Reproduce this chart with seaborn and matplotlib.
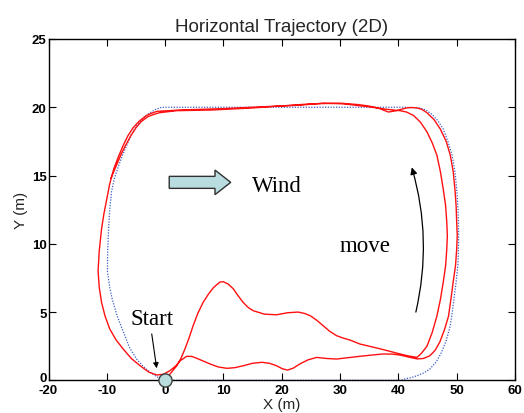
import matplotlib
matplotlib.use("Agg")
import matplotlib.pyplot as plt
import matplotlib.transforms as mtransforms
import numpy as np
import pandas as pd
import seaborn as sns
from matplotlib.patches import FancyArrow

# Planned (reference) path, metres
ref_x = [0, 10, 20, 30, 40.5, 41.1, 42.2, 43.3, 44.4, 45.4, 46.5, 47.4, 48.2, 48.9,
         49.4, 49.9, 50.2, 50.3, 50.35, 50.3, 50.2, 50.0, 49.7, 49.2, 48.5, 47.7,
         46.8, 45.7, 44.7, 43.7, 41.4, 30, 20, 10, -0.6, -1.6, -2.6, -3.8, -4.9,
         -5.8, -6.6, -7.3, -8.0, -8.7, -9.2, -9.5, -9.7, -9.85, -9.9, -9.5, -9.1,
         -8.3, -7.4, -6.1, -4.9, -3.7, -2.6, -1.5, -0.6, 0]
ref_y = [0, 0, 0, 0, 0, 0.1, 0.2, 0.35, 0.55, 0.83, 1.35, 2.05, 2.9, 4.0,
         5.5, 7.2, 8.4, 9.5, 10.6, 11.6, 12.8, 14.0, 15.3, 16.5, 17.5, 18.4,
         19.0, 19.5, 19.8, 19.95, 20.0, 20.0, 20.0, 20.0, 20.0, 19.85, 19.6, 19.2, 18.65,
         18.0, 17.2, 16.5, 15.7, 14.8, 13.8, 12.5, 11.1, 9.5, 8.0, 6.8, 6.0,
         4.8, 3.8, 2.4, 1.56, 1.0, 0.6, 0.28, 0.1, 0]

# Flown trajectory, first lap
lap1_x = [0, 0.3, 1.1, 2.0, 2.7, 3.4, 4.1, 4.8, 5.6, 6.5, 7.4, 8.3, 9.4, 10.0, 10.8,
          11.7, 12.5, 13.4, 14.2, 15.1, 17.0, 19.1, 21.0, 22.8, 23.9, 24.9, 26.0,
          27.1, 28.2, 29.4, 30.5, 31.7, 33.4, 35.5, 37.4, 40.3, 41.8, 43.2,
          44.0, 44.9, 45.8, 46.6, 47.2, 47.7, 48.1, 48.3, 48.4, 48.3, 48.1, 47.7,
          47.2, 46.6, 45.8, 44.9, 43.8, 42.6, 41.4, 40.3, 38.0,
          34.6, 30.6, 27.1, 23.1, 17.4, 10.0, 6.0, 2.6, 0.5, -1.4, -2.4, -3.2,
          -4.4, -5.5, -6.4, -7.2, -8.0, -8.8, -9.5, -10.0, -10.5, -10.9, -11.3,
          -11.5, -11.3, -10.9, -10.3, -9.5, -8.4, -7.2, -5.8, -4.3, -2.8, -1.4,
          -0.3, 0.8, 1.8, 2.6, 3.7]
lap1_y = [0, 0.2, 0.6, 1.07, 1.6, 2.3, 3.1, 4.0, 4.9, 5.7, 6.3, 6.8, 7.2, 7.22, 7.05,
          6.7, 6.2, 5.7, 5.35, 5.1, 4.85, 4.8, 4.95, 5.0, 4.9, 4.73, 4.4,
          4.0, 3.6, 3.27, 3.1, 2.95, 2.66, 2.45, 2.25, 1.93, 1.78, 1.68,
          2.0, 2.5, 3.5, 4.7, 5.9, 7.2, 8.4, 9.6, 10.6, 11.6, 12.8, 14.0,
          15.3, 16.5, 17.4, 18.2, 18.9, 19.4, 19.65, 19.75, 19.85,
          20.05, 20.25, 20.3, 20.15, 20.05, 19.9, 19.85, 19.8, 19.75, 19.7, 19.55, 19.4,
          19.0, 18.5, 17.9, 17.2, 16.4, 15.5, 14.4, 13.3, 12.2, 11.1, 9.5,
          8.0, 6.8, 5.7, 4.7, 3.76, 2.95, 2.3, 1.6, 1.07, 0.6, 0.39,
          0.45, 0.7, 1.05, 1.44, 1.76]

# Flown trajectory, second lap
lap2_x = [4.6, 5.5, 6.6, 7.7, 9.1, 10.6, 12.0, 13.4, 15.0, 16.6, 17.9, 19.1, 20.1,
          21.0, 22.0, 23.1, 24.5, 26.0, 27.7, 29.4, 31.4, 33.4, 35.4, 37.4, 39.0,
          40.3, 41.8, 43.2, 44.3, 45.4, 46.3, 47.1, 47.9, 48.6, 49.0, 49.4, 49.8,
          50.0, 50.1, 50.0, 49.9, 49.7, 49.4, 48.9, 48.2, 47.2, 46.1, 44.9, 44.0,
          43.2, 42.3, 41.4, 40.5, 39.7, 38.3, 37.4, 36.5, 34.8, 33.0, 30.0, 25.0,
          20.0, 15.0, 8.0, 2.0, -1.0, -2.1, -3.0, -4.1, -5.0, -5.9, -6.8, -7.5,
          -8.2, -8.8, -9.3]
lap2_y = [1.75, 1.6, 1.4, 1.2, 0.98, 0.88, 0.93, 1.07, 1.25, 1.32, 1.25, 1.07, 0.85,
          0.75, 0.9, 1.2, 1.5, 1.68, 1.6, 1.56, 1.66, 1.76, 1.85, 1.93, 1.92,
          1.85, 1.7, 1.57, 1.6, 1.8, 2.2, 2.8, 3.7, 4.7, 5.9, 7.2, 8.4,
          9.6, 10.6, 11.6, 12.8, 14.0, 15.3, 16.5, 17.5, 18.4, 19.1, 19.6, 19.85,
          19.95, 19.98, 19.95, 19.85, 19.75, 19.65, 19.8, 19.95, 20.1, 20.2, 20.3, 20.25,
          20.1, 19.95, 19.8, 19.75, 19.6, 19.45, 19.3, 18.95, 18.5, 17.9, 17.2, 16.6,
          15.9, 15.3, 14.8]

x_ticks = [-20, -10, 0, 10, 20, 30, 40, 50, 60]
y_ticks = [0, 5, 10, 15, 20, 25]

sns.set_theme(style="ticks")
plt.rcParams["font.family"] = ["Liberation Sans", "DejaVu Sans"]
plt.rcParams["axes.edgecolor"] = "black"
plt.rcParams["xtick.color"] = "black"
plt.rcParams["ytick.color"] = "black"

fig = plt.figure(figsize=(5.24, 4.14), dpi=100)
ax = fig.add_axes([0.0926, 0.0789, 0.8902, 0.8245])

ref = pd.DataFrame({"x": ref_x, "y": ref_y})
flown = pd.DataFrame({"x": lap1_x + lap2_x, "y": lap1_y + lap2_y})

sns.lineplot(data=ref, x="x", y="y", sort=False, estimator=None, ax=ax,
             color="#3d5cc8", linewidth=0.9, linestyle=(0, (1, 1.2)), zorder=2)
sns.lineplot(data=flown, x="x", y="y", sort=False, estimator=None, ax=ax,
             color="#ff1010", linewidth=1.0, zorder=3)

# Wind arrow and label
ax.add_patch(FancyArrow(0.7, 14.5, 10.55, 0, width=0.88, head_width=1.8,
                        head_length=2.7, length_includes_head=True,
                        facecolor="#b8dcdf", edgecolor="#303030", linewidth=1.0,
                        zorder=4))
serif = ["Liberation Serif", "DejaVu Serif"]
ax.text(14.85, 13.9, "Wind", family=serif, fontsize=16.5, va="baseline", color="black")

# Direction of motion
ax.annotate("", xy=(42.3, 15.6), xytext=(43.0, 5.0),
            arrowprops=dict(arrowstyle="-|>", color="black", lw=0.9,
                            mutation_scale=10, shrinkA=0, shrinkB=0,
                            connectionstyle="arc3,rad=0.13"))
ax.text(30.0, 9.5, "move", family=serif, fontsize=16.5, va="baseline", color="black")

# Start point
ax.annotate("", xy=(-1.45, 0.88), xytext=(-2.3, 3.4),
            arrowprops=dict(arrowstyle="-|>", color="black", lw=0.8,
                            mutation_scale=8, shrinkA=0, shrinkB=0))
ax.text(-6.0, 4.13, "Start", family=serif, fontsize=16.5, va="baseline", color="black")
ax.scatter([0], [0], s=90, facecolor="#b9dcdc", edgecolor="#404040",
           linewidth=1.0, zorder=6, clip_on=False)

ax.set_xlim(-20, 60)
ax.set_ylim(0, 25)
ax.set_xticks(x_ticks)
ax.set_yticks(y_ticks)
ax.set_xticklabels([str(v) for v in x_ticks], fontweight="bold")
ax.set_yticklabels([str(v) for v in y_ticks], fontweight="bold")
ax.tick_params(direction="in", top=True, right=True, length=5, width=0.8,
               labelsize=9.5)
ax.tick_params(axis="x", pad=2.5)
ax.tick_params(axis="y", pad=1.5)
# lift the corner "0" so it clears the "-20" below it
lift = mtransforms.ScaledTranslation(0, 3 / 72, fig.dpi_scale_trans)
zero_label = ax.get_yticklabels()[0]
zero_label.set_transform(zero_label.get_transform() + lift)

for s in ax.spines.values():
    s.set_visible(True)
    s.set_linewidth(1.0)
    s.set_color("black")

ax.set_xlabel("X (m)", fontsize=11, labelpad=1)
ax.set_ylabel("Y (m)", fontsize=11, labelpad=3)
ax.set_title("Horizontal Trajectory (2D)", fontsize=13.5, pad=6)

fig.savefig("out.png", dpi=100)
